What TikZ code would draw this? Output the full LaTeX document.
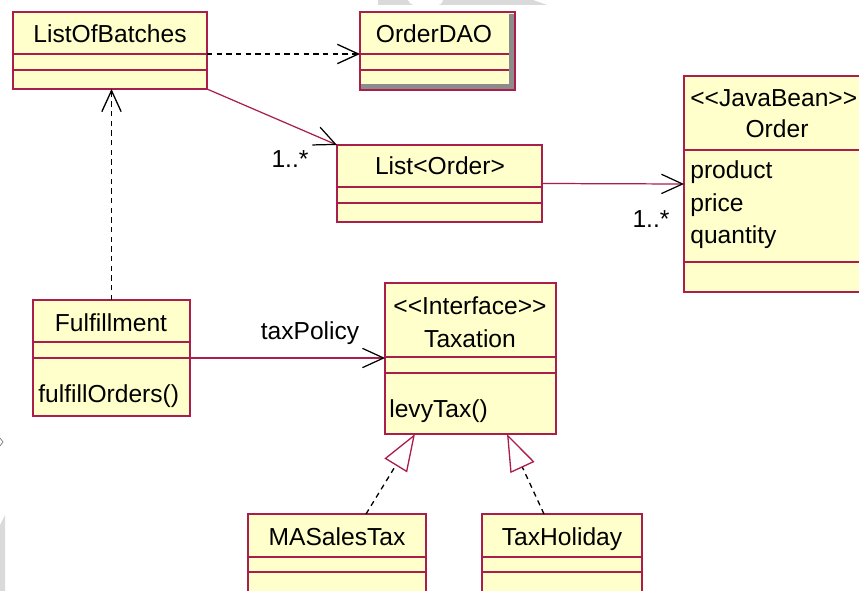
\documentclass[tikz,border=0pt]{standalone}
\usepackage{fontspec}
\setmainfont{Liberation Sans}
\usetikzlibrary{arrows.meta,calc}

\definecolor{umlred}{RGB}{170,30,75}
\definecolor{umlfill}{RGB}{255,255,204}
\definecolor{bggray}{RGB}{218,218,218}

% box of a class: name, left, top, right, bottom, first and second divider
\newcommand{\classbox}[7]{%
  \node[cls, minimum width={(#4-#2)*0.02cm}, minimum height={(#5-#3)*0.02cm}] (#1) at (#2,#3) {};
  \draw[umlred, line width=0.7pt] (#2,#6) -- (#4,#6);
  \draw[umlred, line width=0.7pt] (#2,#7) -- (#4,#7);
}

\begin{document}
\begin{tikzpicture}[x=0.02cm, y=-0.02cm]
  \useasboundingbox (0,0) rectangle (859,591);
  \fill[white] (0,0) rectangle (859,591);
  \clip (0,0) rectangle (859,591);

  % bits of the window behind
  \fill[bggray] (378,0) -- (533,0) -- (547,5) -- (378,5) -- cycle;
  \fill[white] (408,0) .. controls (410,4) and (412,5) .. (416,5) -- (436,5) .. controls (440,5) and (442,4) .. (443,0) -- cycle;
  \fill[bggray] (0,525) -- (5,515) -- (5,591) -- (0,591) -- cycle;
  \draw[gray] (0,438) -- (3,442) -- (0,446);

  \begin{scope}[cls/.style={draw=umlred, fill=umlfill, line width=0.7pt, inner sep=0, outer sep=0, anchor=north west},
                lbl/.style={font=\fontsize{14}{16}\selectfont, inner sep=0, anchor=base},
                dep/.style={line width=0.75pt, dash pattern=on 3pt off 2.5pt, -{Straight Barb[length=12pt, width=11pt]}},
                assoc/.style={umlred, line width=0.7pt, -{Straight Barb[black, length=12pt, width=11pt]}},
                real/.style={black, line width=0.75pt, dash pattern=on 3pt off 2.5pt, -{Triangle[umlred, fill=white, length=21pt, width=15pt]}}]
    \classbox{LOB}{13}{12}{207}{89}{54}{70}
    \classbox{DAO}{360}{12}{515}{90}{54}{70}
    \fill[gray!90] (509,14) rectangle (514,89);
    \fill[gray!90] (361,84) rectangle (514,89);
    \draw[umlred, line width=0.7pt] (DAO.north west) rectangle (DAO.south east);
    \classbox{LST}{337}{145}{542}{222}{187}{203}
    \classbox{ORD}{684}{76}{870}{292}{150}{262}
    \classbox{FUL}{33}{300}{190}{416}{342}{358}
    \classbox{TAX}{385}{283}{556}{434}{357}{373}
    \classbox{MST}{248}{514}{426}{600}{557}{572}
    \classbox{HOL}{482}{514}{642}{600}{557}{572}

    \node[lbl] (LOBname) at (110,43) {ListOfBatches};
    \node[lbl] (DAOname) at (434,43) {OrderDAO};
    \node[lbl] (LSTname) at (440,175) {List<Order>};
    \node[lbl, anchor=base west] (ORDstereo) at (690,107) {<\kern0pt<JavaBean>\kern0pt>};
    \node[lbl] (ORDname) at (777,138) {Order};
    \node[lbl, anchor=base west] (ORDa) at (690,179) {product};
    \node[lbl, anchor=base west] (ORDb) at (690,212) {price};
    \node[lbl, anchor=base west] (ORDc) at (690,244) {quantity};
    \node[lbl] (FULname) at (111,332) {Fulfillment};
    \node[lbl, anchor=base west] (FULop) at (38,402) {fulfillOrders()};
    \node[lbl] (TAXstereo) at (470,315) {<\kern0pt<Interface>\kern0pt>};
    \node[lbl] (TAXname) at (470,347) {Taxation};
    \node[lbl, anchor=base west] (TAXop) at (389,418) {levyTax()};
    \node[lbl] (MSTname) at (337,545) {MASalesTax};
    \node[lbl] (HOLname) at (562,545) {TaxHoliday};

    \draw[dep] ($(LOB.north east)+(0,42)$) -- ($(DAO.north west)+(0,42)$);
    \draw[assoc] (LOB.south east) -- (LST.north west);
    \node[lbl] (M1) at (290,168) {1..*};
    \draw[assoc] (LST.east) -- (ORD.west);
    \node[lbl] (M2) at (651,228) {1..*};
    \draw[dep] (FUL.north) -- (FUL.north |- LOB.south);
    \draw[assoc] ($(FUL.north east)+(0,58)$) -- ($(TAX.north west)+(0,75)$);
    \node[lbl] (ROLE) at (310,339) {taxPolicy};
    \draw[real] ($(MST.north west)+(118,0)$) -- ($(TAX.south west)+(30,0)$);
    \draw[real] ($(HOL.north west)+(62,0)$) -- ($(TAX.south west)+(122,0)$);
  \end{scope}
\end{tikzpicture}
\end{document}
